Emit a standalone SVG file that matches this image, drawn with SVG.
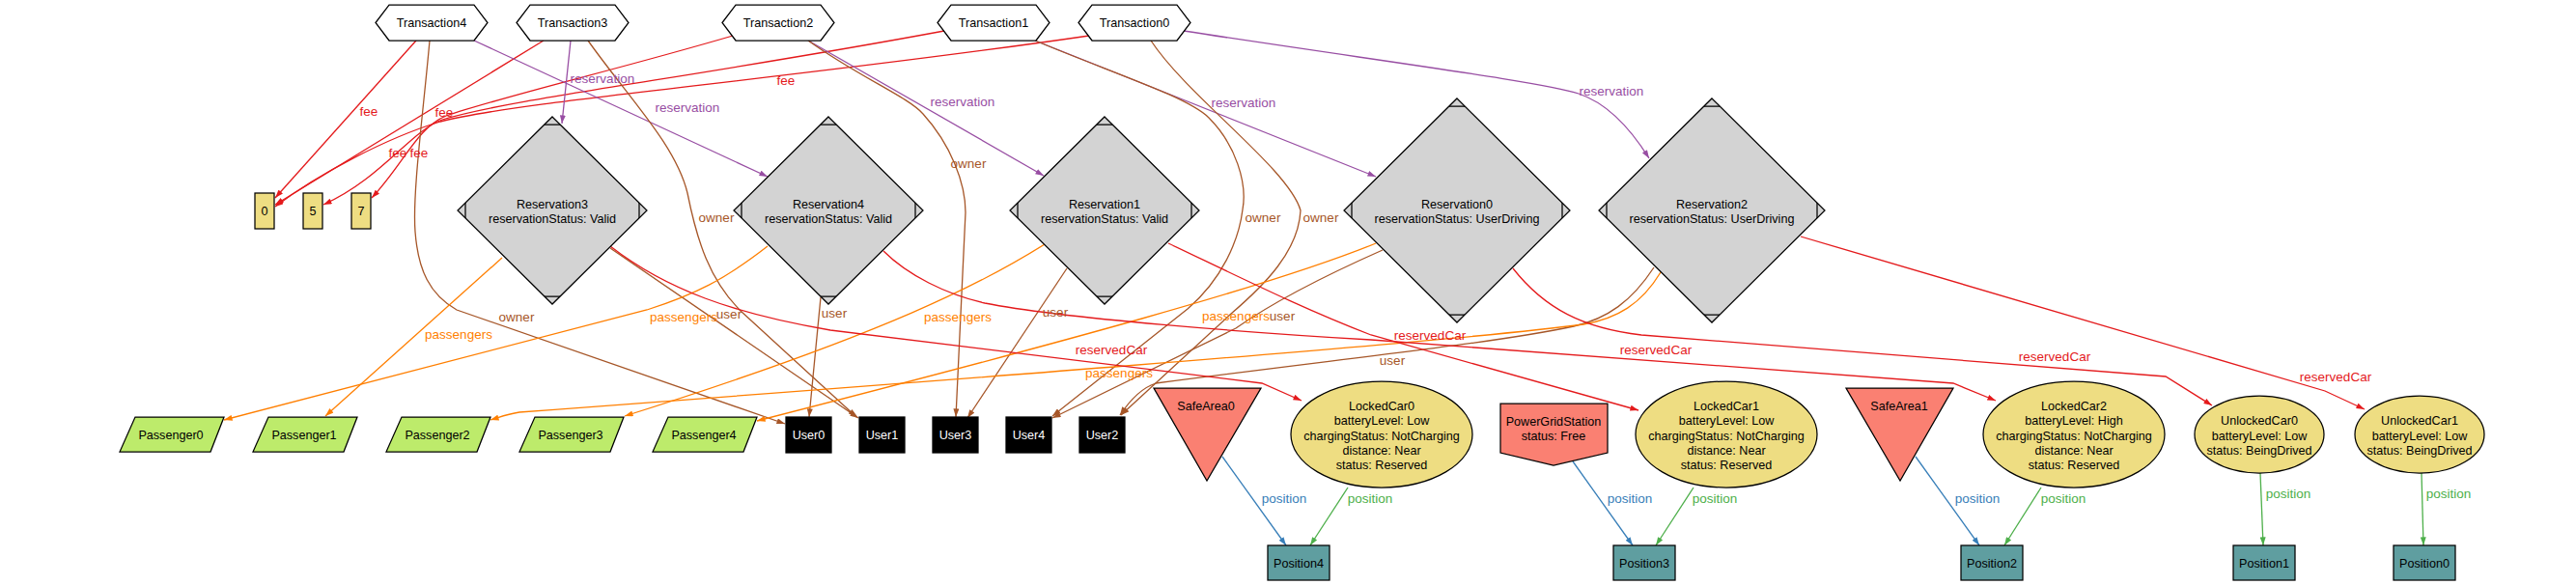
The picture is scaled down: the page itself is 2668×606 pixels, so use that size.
<svg xmlns="http://www.w3.org/2000/svg" width="2668" height="606" viewBox="0 0 2668 606">
<style>
text{font-family:"Liberation Sans",Arial,sans-serif}
.nt{font-size:12.6px;fill:#000;text-anchor:middle}
.wt{font-size:12.6px;fill:#fff;text-anchor:middle}
.el{font-size:13.5px;text-anchor:middle}
.node{stroke:#000;stroke-width:1.25}
.e{fill:none;stroke-width:1.3}
.red{stroke:#e41a1c}.pur{stroke:#984ea3}.brn{stroke:#a65628}.org{stroke:#ff7f00}.blu{stroke:#377eb8}.grn{stroke:#4daf4a}
.lred{fill:#e41a1c}.lpur{fill:#984ea3}.lbrn{fill:#a65628}.lorg{fill:#ff7f00}.lblu{fill:#377eb8}.lgrn{fill:#4daf4a}
.red{marker-end:url(#ar)}.pur{marker-end:url(#ap)}.brn{marker-end:url(#ab)}.org{marker-end:url(#ao)}.blu{marker-end:url(#abl)}.grn{marker-end:url(#ag)}
</style>
<defs>
<marker id="ar" viewBox="0 0 10 7" refX="10" refY="3.5" markerWidth="9" markerHeight="6" markerUnits="userSpaceOnUse" orient="auto"><path d="M0,0L10,3.5L0,7z" fill="#e41a1c"/></marker>
<marker id="ap" viewBox="0 0 10 7" refX="10" refY="3.5" markerWidth="9" markerHeight="6" markerUnits="userSpaceOnUse" orient="auto"><path d="M0,0L10,3.5L0,7z" fill="#984ea3"/></marker>
<marker id="ab" viewBox="0 0 10 7" refX="10" refY="3.5" markerWidth="9" markerHeight="6" markerUnits="userSpaceOnUse" orient="auto"><path d="M0,0L10,3.5L0,7z" fill="#a65628"/></marker>
<marker id="ao" viewBox="0 0 10 7" refX="10" refY="3.5" markerWidth="9" markerHeight="6" markerUnits="userSpaceOnUse" orient="auto"><path d="M0,0L10,3.5L0,7z" fill="#ff7f00"/></marker>
<marker id="abl" viewBox="0 0 10 7" refX="10" refY="3.5" markerWidth="9" markerHeight="6" markerUnits="userSpaceOnUse" orient="auto"><path d="M0,0L10,3.5L0,7z" fill="#377eb8"/></marker>
<marker id="ag" viewBox="0 0 10 7" refX="10" refY="3.5" markerWidth="9" markerHeight="6" markerUnits="userSpaceOnUse" orient="auto"><path d="M0,0L10,3.5L0,7z" fill="#4daf4a"/></marker>
</defs>
<rect width="2668" height="606" fill="#fff"/>

<g id="connectors">
<!-- fee -->
<path class="e red" d="M431,42 L285,205"/>
<path class="e red" d="M563,42 L285,212"/>
<path class="e red" d="M759,37 C640,72 520,100 462,120 C432,132 418,170 385,205"/>
<path class="e red" d="M978,32 C720,80 530,102 458,124 C425,136 395,185 335,212"/>
<path class="e red" d="M1128,37 C820,82 540,104 456,126 C400,143 330,180 285,214"/>
<!-- reservation -->
<path class="e pur" d="M591,42 L582,128"/>
<path class="e pur" d="M491,42 L795,183"/>
<path class="e pur" d="M837,42 L1081,182"/>
<path class="e pur" d="M1072,42 L1425,183"/>
<path class="e pur" d="M1226,32 C1420,62 1600,85 1635,97 C1665,107 1688,132 1708,164"/>
<!-- owner -->
<path class="e brn" d="M445,42 C438,120 427,200 430,240 C433,280 445,305 473,321 L813,439"/>
<path class="e brn" d="M609,42 C650,100 700,150 712,200 C722,250 735,290 767,322 L887,432"/>
<path class="e brn" d="M837,42 C890,80 940,100 956,118 C985,150 1000,190 1000,220 L990,432"/>
<path class="e brn" d="M1072,42 C1150,75 1230,100 1252,122 C1280,150 1292,190 1287,217 C1283,250 1265,290 1230,320 L1090,431"/>
<path class="e brn" d="M1192,42 C1230,100 1335,175 1347,218 C1345,260 1310,295 1275,325 L1161,430"/>
<!-- user -->
<path class="e brn" d="M632,257 L889,433"/>
<path class="e brn" d="M850,308 L838,432"/>
<path class="e brn" d="M1105,278 L1002,433"/>
<path class="e brn" d="M1432,259 C1380,282 1320,312 1280,340 L1090,433"/>
<path class="e brn" d="M1713,277 C1690,312 1665,330 1630,338 C1550,355 1420,368 1197,397 C1182,402 1170,415 1160,430"/>
<!-- passengers -->
<path class="e org" d="M520,267 L337,431"/>
<path class="e org" d="M795,255 C750,290 720,305 670,321 L232,435"/>
<path class="e org" d="M1082,253 C1020,292 920,345 647,431"/>
<path class="e org" d="M1425,252 C1320,295 1100,355 784,436"/>
<path class="e org" d="M1720,282 C1700,315 1675,330 1640,336 C1500,355 900,400 538,427 C525,429 518,432 508,435"/>
<!-- reservedCar -->
<path class="e red" d="M632,255 C690,300 760,325 860,342 L1307,397 L1348,415"/>
<path class="e red" d="M915,260 C940,285 980,305 1020,314 C1100,330 1300,345 1420,352 L2023,397 L2067,415"/>
<path class="e red" d="M1210,252 C1290,290 1350,320 1420,347 L1697,425"/>
<path class="e red" d="M1567,278 C1600,320 1640,340 1700,347 L2243,390 L2291,420"/>
<path class="e red" d="M1865,245 L2408,405 L2449,424"/>
<!-- position -->
<path class="e blu" d="M1266,473 L1332,565"/>
<path class="e grn" d="M1396,505 L1357,565"/>
<path class="e blu" d="M1629,478 L1691,565"/>
<path class="e grn" d="M1754,505 L1715,565"/>
<path class="e blu" d="M1984,473 L2050,565"/>
<path class="e grn" d="M2114,505 L2076,565"/>
<path class="e grn" d="M2341,490 L2344,565"/>
<path class="e grn" d="M2508,490 L2510,565"/>
<!-- labels -->
<text class="el lred" x="382" y="120">fee</text>
<text class="el lred" x="460" y="121">fee</text>
<text class="el lred" x="412" y="163">fee</text>
<text class="el lred" x="434" y="163">fee</text>
<text class="el lred" x="814" y="88">fee</text>
<text class="el lpur" x="624" y="86">reservation</text>
<text class="el lpur" x="712" y="116">reservation</text>
<text class="el lpur" x="997" y="110">reservation</text>
<text class="el lpur" x="1288" y="111">reservation</text>
<text class="el lpur" x="1669" y="99">reservation</text>
<text class="el lbrn" x="535" y="333">owner</text>
<text class="el lbrn" x="742" y="230">owner</text>
<text class="el lbrn" x="1003" y="174">owner</text>
<text class="el lbrn" x="1308" y="230">owner</text>
<text class="el lbrn" x="1368" y="230">owner</text>
<text class="el lbrn" x="755" y="330">user</text>
<text class="el lbrn" x="864" y="329">user</text>
<text class="el lbrn" x="1093" y="328">user</text>
<text class="el lbrn" x="1328" y="332">user</text>
<text class="el lbrn" x="1442" y="378">user</text>
<text class="el lorg" x="475" y="351">passengers</text>
<text class="el lorg" x="708" y="333">passengers</text>
<text class="el lorg" x="992" y="333">passengers</text>
<text class="el lorg" x="1280" y="332">passengers</text>
<text class="el lorg" x="1159" y="391">passengers</text>
<text class="el lred" x="1151" y="367">reservedCar</text>
<text class="el lred" x="1481" y="352">reservedCar</text>
<text class="el lred" x="1715" y="367">reservedCar</text>
<text class="el lred" x="2128" y="374">reservedCar</text>
<text class="el lred" x="2419" y="395">reservedCar</text>
<text class="el lblu" x="1330" y="521">position</text>
<text class="el lgrn" x="1419" y="521">position</text>
<text class="el lblu" x="1688" y="521">position</text>
<text class="el lgrn" x="1776" y="521">position</text>
<text class="el lblu" x="2048" y="521">position</text>
<text class="el lgrn" x="2137" y="521">position</text>
<text class="el lgrn" x="2370" y="516">position</text>
<text class="el lgrn" x="2536" y="516">position</text>
</g>

<g id="Transaction4"><polygon class="node" fill="#fff" points="389,23.5 403,5 491,5 505,23.5 491,42 403,42"/><text class="nt" x="447" y="28">Transaction4</text></g>
<g id="Transaction3"><polygon class="node" fill="#fff" points="535,23.5 549,5 637,5 651,23.5 637,42 549,42"/><text class="nt" x="593" y="28">Transaction3</text></g>
<g id="Transaction2"><polygon class="node" fill="#fff" points="748,23.5 762,5 850,5 864,23.5 850,42 762,42"/><text class="nt" x="806" y="28">Transaction2</text></g>
<g id="Transaction1"><polygon class="node" fill="#fff" points="971,23.5 985,5 1073,5 1087,23.5 1073,42 985,42"/><text class="nt" x="1029" y="28">Transaction1</text></g>
<g id="Transaction0"><polygon class="node" fill="#fff" points="1117,23.5 1131,5 1219,5 1233,23.5 1219,42 1131,42"/><text class="nt" x="1175" y="28">Transaction0</text></g>

<g id="Int0"><rect class="node" fill="#eedd82" x="264" y="200" width="20" height="37"/><text class="nt" x="274" y="223">0</text></g>
<g id="Int5"><rect class="node" fill="#eedd82" x="314" y="200" width="20" height="37"/><text class="nt" x="324" y="223">5</text></g>
<g id="Int7"><rect class="node" fill="#eedd82" x="364" y="200" width="20" height="37"/><text class="nt" x="374" y="223">7</text></g>

<g id="Reservation3"><polygon class="node" fill="#d3d3d3" points="572,121 670,218 572,315 474,218"/><path class="node" fill="none" d="M564,129H580M482,210V226M662,210V226M564,307H580"/><text class="nt" x="572" y="215.5">Reservation3</text><text class="nt" x="572" y="230.5">reservationStatus: Valid</text></g>
<g id="Reservation4"><polygon class="node" fill="#d3d3d3" points="858,121 956,218 858,315 760,218"/><path class="node" fill="none" d="M850,129H866M768,210V226M948,210V226M850,307H866"/><text class="nt" x="858" y="215.5">Reservation4</text><text class="nt" x="858" y="230.5">reservationStatus: Valid</text></g>
<g id="Reservation1"><polygon class="node" fill="#d3d3d3" points="1144,121 1242,218 1144,315 1046,218"/><path class="node" fill="none" d="M1136,129H1152M1054,210V226M1234,210V226M1136,307H1152"/><text class="nt" x="1144" y="215.5">Reservation1</text><text class="nt" x="1144" y="230.5">reservationStatus: Valid</text></g>
<g id="Reservation0"><polygon class="node" fill="#d3d3d3" points="1509,102 1626,218 1509,334 1392,218"/><path class="node" fill="none" d="M1501,110H1517M1400,210V226M1618,210V226M1501,326H1517"/><text class="nt" x="1509" y="215.5">Reservation0</text><text class="nt" x="1509" y="230.5">reservationStatus: UserDriving</text></g>
<g id="Reservation2"><polygon class="node" fill="#d3d3d3" points="1773,102 1890,218 1773,334 1656,218"/><path class="node" fill="none" d="M1765,110H1781M1664,210V226M1882,210V226M1765,326H1781"/><text class="nt" x="1773" y="215.5">Reservation2</text><text class="nt" x="1773" y="230.5">reservationStatus: UserDriving</text></g>

<g id="Passenger0"><polygon class="node" fill="#bdeb6b" points="140,432 232,432 218,468 124,468"/><text class="nt" x="177" y="455">Passenger0</text></g>
<g id="Passenger1"><polygon class="node" fill="#bdeb6b" points="278,432 370,432 356,468 262,468"/><text class="nt" x="315" y="455">Passenger1</text></g>
<g id="Passenger2"><polygon class="node" fill="#bdeb6b" points="416,432 508,432 494,468 400,468"/><text class="nt" x="453" y="455">Passenger2</text></g>
<g id="Passenger3"><polygon class="node" fill="#bdeb6b" points="554,432 646,432 632,468 538,468"/><text class="nt" x="591" y="455">Passenger3</text></g>
<g id="Passenger4"><polygon class="node" fill="#bdeb6b" points="692,432 784,432 770,468 676,468"/><text class="nt" x="729" y="455">Passenger4</text></g>

<g id="User0"><rect class="node" fill="#000" x="814" y="432" width="47" height="37"/><text class="wt" x="837.5" y="455">User0</text></g>
<g id="User1"><rect class="node" fill="#000" x="890" y="432" width="47" height="37"/><text class="wt" x="913.5" y="455">User1</text></g>
<g id="User3"><rect class="node" fill="#000" x="966" y="432" width="47" height="37"/><text class="wt" x="989.5" y="455">User3</text></g>
<g id="User4"><rect class="node" fill="#000" x="1042" y="432" width="47" height="37"/><text class="wt" x="1065.5" y="455">User4</text></g>
<g id="User2"><rect class="node" fill="#000" x="1118" y="432" width="47" height="37"/><text class="wt" x="1141.5" y="455">User2</text></g>

<g id="SafeArea0"><polygon class="node" fill="#fa8072" points="1195,402 1306,402 1250,498"/><text class="nt" x="1249" y="424.5">SafeArea0</text></g>
<g id="SafeArea1"><polygon class="node" fill="#fa8072" points="1912,402 2023,402 1968,498"/><text class="nt" x="1967" y="424.5">SafeArea1</text></g>
<g id="PowerGridStation"><polygon class="node" fill="#fa8072" points="1554,418 1665,418 1665,469 1609,482 1554,469"/><text class="nt" x="1609" y="440.5">PowerGridStation</text><text class="nt" x="1609" y="455.5">status: Free</text></g>

<g id="LockedCar0"><ellipse class="node" fill="#eedd82" cx="1431" cy="450" rx="94" ry="55"/><text class="nt" x="1431" y="424.5">LockedCar0</text><text class="nt" x="1431" y="440">batteryLevel: Low</text><text class="nt" x="1431" y="455.5">chargingStatus: NotCharging</text><text class="nt" x="1431" y="470.5">distance: Near</text><text class="nt" x="1431" y="485.5">status: Reserved</text></g>
<g id="LockedCar1"><ellipse class="node" fill="#eedd82" cx="1788" cy="450" rx="94" ry="55"/><text class="nt" x="1788" y="424.5">LockedCar1</text><text class="nt" x="1788" y="440">batteryLevel: Low</text><text class="nt" x="1788" y="455.5">chargingStatus: NotCharging</text><text class="nt" x="1788" y="470.5">distance: Near</text><text class="nt" x="1788" y="485.5">status: Reserved</text></g>
<g id="LockedCar2"><ellipse class="node" fill="#eedd82" cx="2148" cy="450" rx="94" ry="55"/><text class="nt" x="2148" y="424.5">LockedCar2</text><text class="nt" x="2148" y="440">batteryLevel: High</text><text class="nt" x="2148" y="455.5">chargingStatus: NotCharging</text><text class="nt" x="2148" y="470.5">distance: Near</text><text class="nt" x="2148" y="485.5">status: Reserved</text></g>
<g id="UnlockedCar0"><ellipse class="node" fill="#eedd82" cx="2340" cy="450" rx="67" ry="40"/><text class="nt" x="2340" y="440">UnlockedCar0</text><text class="nt" x="2340" y="455.5">batteryLevel: Low</text><text class="nt" x="2340" y="470.5">status: BeingDrived</text></g>
<g id="UnlockedCar1"><ellipse class="node" fill="#eedd82" cx="2506" cy="450" rx="67" ry="40"/><text class="nt" x="2506" y="440">UnlockedCar1</text><text class="nt" x="2506" y="455.5">batteryLevel: Low</text><text class="nt" x="2506" y="470.5">status: BeingDrived</text></g>

<g id="Position4"><rect class="node" fill="#5f9ea0" x="1313" y="565" width="64" height="36"/><text class="nt" x="1345" y="588">Position4</text></g>
<g id="Position3"><rect class="node" fill="#5f9ea0" x="1671" y="565" width="64" height="36"/><text class="nt" x="1703" y="588">Position3</text></g>
<g id="Position2"><rect class="node" fill="#5f9ea0" x="2031" y="565" width="64" height="36"/><text class="nt" x="2063" y="588">Position2</text></g>
<g id="Position1"><rect class="node" fill="#5f9ea0" x="2313" y="565" width="64" height="36"/><text class="nt" x="2345" y="588">Position1</text></g>
<g id="Position0"><rect class="node" fill="#5f9ea0" x="2479" y="565" width="64" height="36"/><text class="nt" x="2511" y="588">Position0</text></g>
</svg>
